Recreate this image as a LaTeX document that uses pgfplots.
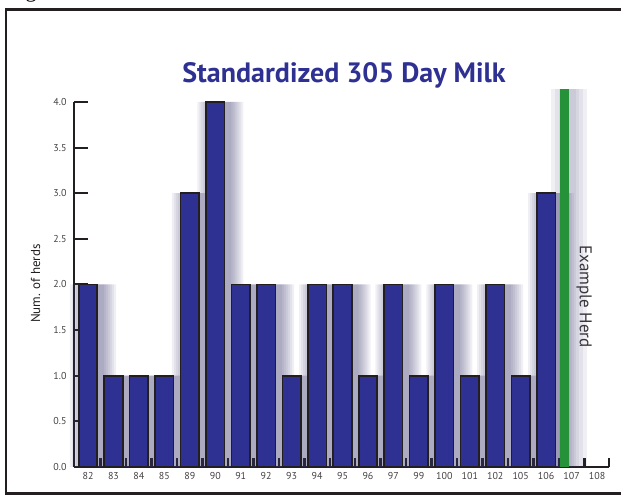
\documentclass[border=0pt]{standalone}
\usepackage{pgfplots}
\pgfplotsset{compat=1.18}
\usepackage{pgfplotstable}
\usepackage{fontspec}
\setmainfont{PT Sans}
\newfontfamily\serifg{Liberation Serif}
\definecolor{barblue}{RGB}{46,49,146}
\definecolor{herdgreen}{RGB}{37,146,57}
\definecolor{ink}{RGB}{35,31,32}
\definecolor{shadowc}{RGB}{60,56,110}

\pgfplotstableread{
idx val
0 2
1 1
2 1
3 1
4 3
5 4
6 2
7 2
8 1
9 2
10 2
11 1
12 2
13 1
14 2
15 1
16 2
17 1
18 3
}\herds

\pgfplotsset{shadowlayer/.style={ybar, bar shift=5pt, fill=shadowc, fill opacity=0.075, draw=none}}

\begin{document}
\begin{tikzpicture}[x=1pt,y=1pt]
\useasboundingbox (0,0) rectangle (621,497);
\draw[line width=2.8pt, ink] (650,487.5) -- (6,487.5) -- (6,3.5) -- (650,3.5);
\node[font=\serifg\fontsize{22}{22}\selectfont, anchor=base] at (31,499) {g};
\node[font=\fontsize{28}{32}\selectfont\bfseries, text=barblue, anchor=base] at (344,414) {Standardized 305 Day Milk};
\node[font=\fontsize{13}{15}\selectfont, text=ink, rotate=90, anchor=base] at (40,213.5) {Num. of herds};
\node[font=\fontsize{17}{19}\selectfont, text=ink!90, rotate=-90, anchor=center] at (584,200.5) {Example Herd};
\begin{axis}[
  at={(74pt,30pt)}, anchor=south west,
  scale only axis, width=535pt, height=365pt,
  xmin=-0.55, xmax=20.47, ymin=0, ymax=4,
  axis lines*=left,
  axis line style={line width=2pt, ink},
  clip=false,
  xtick={0,...,20},
  xticklabels={82,83,84,85,89,90,91,92,93,94,95,96,97,99,100,101,102,105,106,107,108},
  minor xtick={0.5,1.5,2.5,3.5,4.5,5.5,6.5,7.5,8.5,9.5,10.5,11.5,12.5,13.5,14.5,15.5,16.5,17.5,18.5,19.5,20.47},
  ytick={0,0.5,1,1.5,2,2.5,3,3.5,4},
  tick align=inside,
  major tick length=14pt, minor tick length=9pt,
  major x tick style={draw=none},
  minor x tick style={line width=2.5pt, ink},
  y tick style={line width=2pt, ink},
  /pgf/number format/assume math mode=true,
  y tick label style={/pgf/number format/fixed, /pgf/number format/fixed zerofill, /pgf/number format/precision=1, xshift=-4pt},
  tick label style={font=\fontsize{10}{12}\selectfont, text=ink!85},
  x tick label style={yshift=-2pt},
]
\addplot[shadowlayer, bar width=46pt] table[x=idx,y=val]{\herds};
\addplot[shadowlayer, bar width=42pt] table[x=idx,y=val]{\herds};
\addplot[shadowlayer, bar width=38pt] table[x=idx,y=val]{\herds};
\addplot[shadowlayer, bar width=34pt] table[x=idx,y=val]{\herds};
\addplot[shadowlayer, bar width=30pt] table[x=idx,y=val]{\herds};
\addplot[shadowlayer, bar width=26pt] table[x=idx,y=val]{\herds};
\addplot[shadowlayer, bar width=22pt] table[x=idx,y=val]{\herds};
\addplot[shadowlayer, bar width=36pt] coordinates {(18.72,4.14)};
\addplot[shadowlayer, bar width=28pt] coordinates {(18.72,4.14)};
\addplot[shadowlayer, bar width=20pt] coordinates {(18.72,4.14)};
\addplot[shadowlayer, bar width=14pt] coordinates {(18.72,4.14)};
\addplot[ybar, bar width=18.5pt, bar shift=0pt, fill=barblue, draw=ink, line width=1.6pt] table[x=idx,y=val]{\herds};
\addplot[ybar, bar width=9pt, bar shift=0pt, fill=herdgreen, draw=none] coordinates {(18.72,4.14)};
\end{axis}
\end{tikzpicture}
\end{document}
